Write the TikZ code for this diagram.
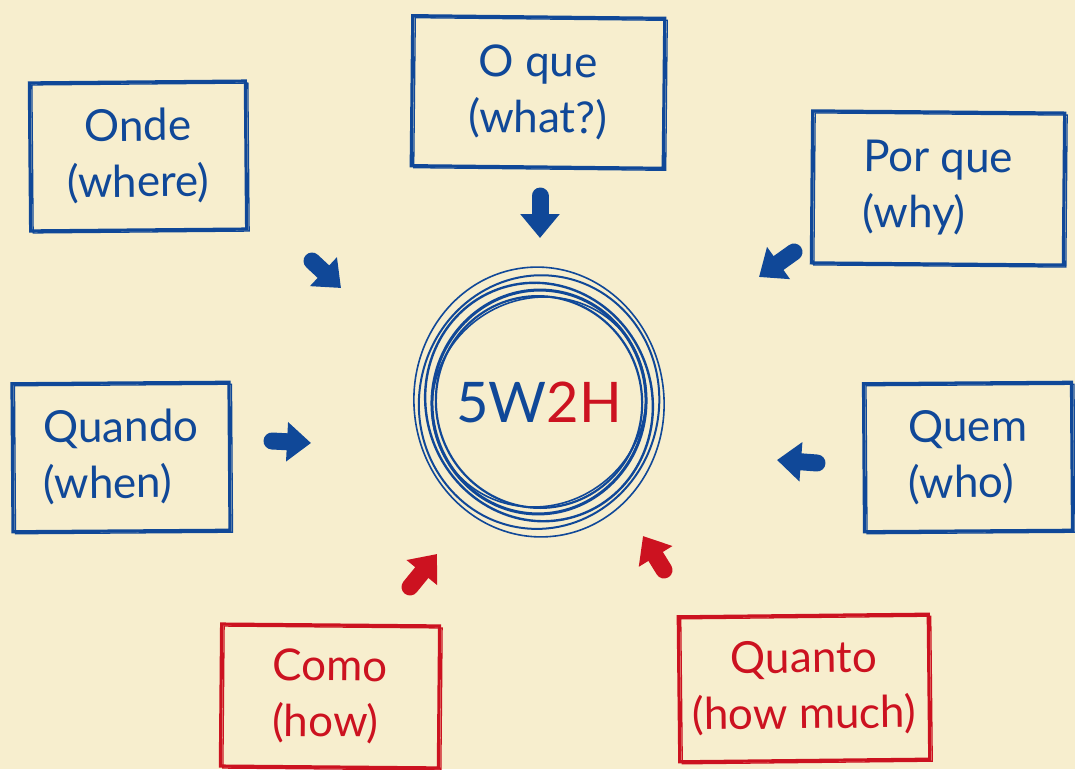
\documentclass[tikz,border=0pt]{standalone}
\usepackage{fontspec}
\setmainfont{Lato}
\usetikzlibrary{arrows.meta}
\definecolor{paper}{RGB}{247,238,206}
\definecolor{ink}{RGB}{16,72,152}
\definecolor{redink}{RGB}{204,18,32}
\tikzset{
  qbox/.style={draw=#1, text=#1, line width=3.2pt, inner sep=0pt,
    font=\fontsize{44}{56}\selectfont,
    postaction={draw=#1, line width=1.3pt, transform canvas={shift={(2.5pt,-2pt)}}}},
  qarrow/.style={draw=#1, line width=17pt, line cap=round,
    -{Triangle[width=38pt,length=24pt]}},
}
\begin{document}
\begin{tikzpicture}[x=1pt,y=-1pt]
        \fill[paper] (0,0) rectangle (1075,769);

        \node[font=\fontsize{56}{60}\selectfont] (c) at (539,402)
            {\textcolor{ink}{5W}\textcolor{redink}{2H}};
        \foreach \rx/\ry/\ang/\dx/\dy/\lw in {
            125/135/6/3/-8/1.6,
            120/127/-10/-4/-2/2.0,
            113/120/20/2/0/2.4,
            107/112/-6/-1/1/3.0,
            103/106/12/1/3/2.2,
            109/103/35/0/4/1.6}
                \draw[ink, line width=\lw pt, shift={(\dx,\dy)}, rotate around={\ang:(c)}]
                    (c) ellipse ({\rx pt} and {\ry pt});

        \node[qbox=ink, align=center, minimum width=252pt, minimum height=150pt, rotate=-0.6]
            (oque) at (538,92) {O que\\(what?)};
        \node[qbox=ink, align=center, minimum width=216pt, minimum height=148pt, rotate=0.5]
            (onde) at (138,156) {Onde\\(where)};
        \node[qbox=ink, align=left, minimum width=252pt, minimum height=152pt, rotate=-0.5]
            (porque) at (938,188) {Por que\\(why)};
        \node[qbox=ink, align=left, minimum width=217pt, minimum height=148pt, rotate=0.4]
            (quando) at (121,457) {Quando\\(when)};
        \node[qbox=ink, align=left, minimum width=208pt, minimum height=148pt, rotate=0.4]
            (quem) at (968,457) {Quem\\(who)};
        \node[qbox=redink, align=left, minimum width=218pt, minimum height=142pt, rotate=-0.5]
            (como) at (330,696) {Como\\(how)};
        \node[qbox=redink, align=center, minimum width=250pt, minimum height=145pt, rotate=0.6]
            (quanto) at (804,688) {Quanto\\(how much)};

        \coordinate (oque1) at (540,196);
        \coordinate (oque2) at (540,238);
        \coordinate (onde1) at (312,261);
        \coordinate (onde2) at (341,288);
        \coordinate (porque1) at (794,252);
        \coordinate (porque2) at (759,277);
        \coordinate (quando1) at (272,441);
        \coordinate (quando2) at (311,443);
        \coordinate (quem1) at (817,463);
        \coordinate (quem2) at (777,460);
        \coordinate (como1) at (410,587);
        \coordinate (como2) at (437,554);
        \coordinate (quanto1) at (664,570);
        \coordinate (quanto2) at (643,536);

        \foreach \a/\col in {oque/ink, onde/ink, porque/ink, quando/ink,
                             quem/ink, como/redink, quanto/redink}
                \draw[qarrow=\col] (\a1) -- (\a2);
\end{tikzpicture}
\end{document}
